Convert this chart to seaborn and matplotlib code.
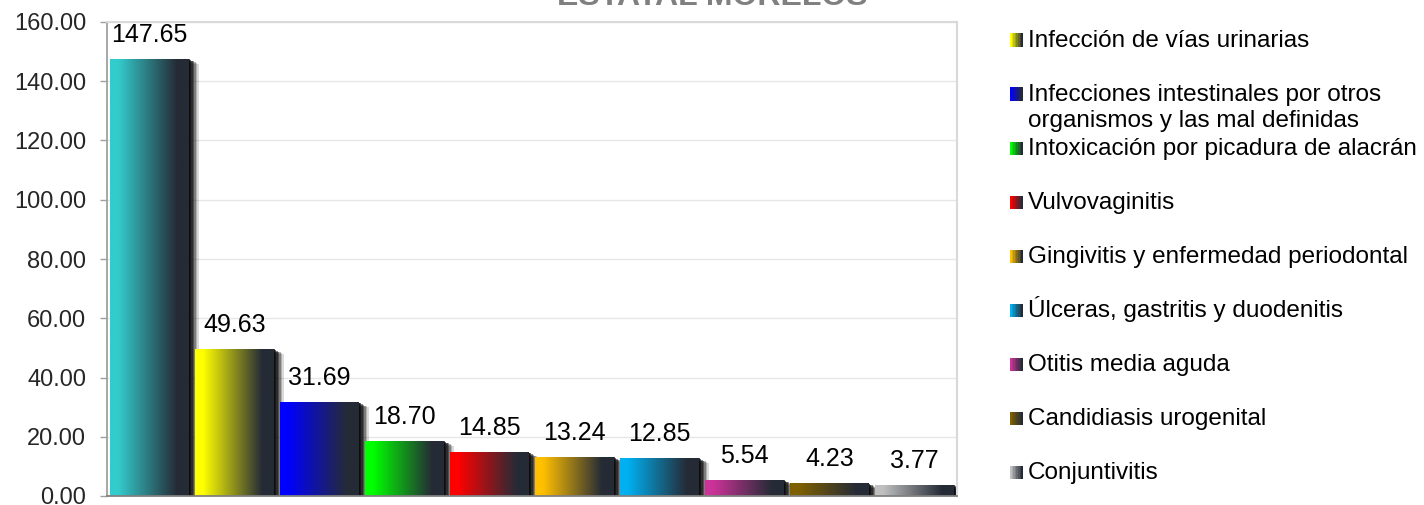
import numpy as np
import pandas as pd
import matplotlib
matplotlib.use('Agg')
import matplotlib.pyplot as plt
import seaborn as sns
from matplotlib.colors import LinearSegmentedColormap
from matplotlib.patches import Rectangle
from matplotlib.transforms import offset_copy

# Data
categories = [
    'Infecciones respiratorias agudas',
    'Infección de vías urinarias',
    'Infecciones intestinales por otros\norganismos y las mal definidas',
    'Intoxicación por picadura de alacrán',
    'Vulvovaginitis',
    'Gingivitis y enfermedad periodontal',
    'Úlceras, gastritis y duodenitis',
    'Otitis media aguda',
    'Candidiasis urogenital',
    'Conjuntivitis',
]
values = [147.65, 49.63, 31.69, 18.70, 14.85, 13.24, 12.85, 5.54, 4.23, 3.77]
colors = ['#33CCCC', '#FFFF00', '#0000FF', '#00FF00', '#FF0000',
          '#FFC000', '#00B0F0', '#CC3399', '#7F6000', '#C0C0C0']
yticks = [0, 20, 40, 60, 80, 100, 120, 140, 160]
title = 'ESTATAL MORELOS'
dark = '#252B36'

sns.set_style('white')
plt.rcParams['font.family'] = ['Liberation Sans', 'DejaVu Sans']

df = pd.DataFrame({'cat': categories, 'val': values})

fig = plt.figure(figsize=(14.24, 5.05), dpi=100)
ax = fig.add_axes([107 / 1424, 9 / 505, 850 / 1424, 474 / 505])

sns.barplot(data=df, x='cat', y='val', hue='cat', palette=colors,
            width=0.92, legend=False, ax=ax, saturation=1, linewidth=0)

grad = np.linspace(0, 1, 256).reshape(1, -1)
for p, c, v in zip(ax.patches, colors, values):
    p.set_zorder(2)
    p.set_edgecolor('none')
    x0, w, h = p.get_x(), p.get_width(), p.get_height()
    # blurred dark shadow, lower right
    for d, a in [(10, 0.15), (8.5, 0.2), (7, 0.3), (5.5, 0.4), (4, 0.5), (2.5, 0.6), (1, 0.7)]:
        tr = offset_copy(ax.transData, fig=fig, x=d, y=-d / 2, units='dots')
        ax.add_patch(Rectangle((x0, 0), w, h, transform=tr, color='#0A0A0A',
                               alpha=a, lw=0, zorder=1.5))
    cmap = LinearSegmentedColormap.from_list(None, [(0, c), (0.1, c), (0.85, dark), (1, dark)])
    im = ax.imshow(grad, cmap=cmap, extent=[x0, x0 + w, 0, h],
                   aspect='auto', zorder=2.5, interpolation='bilinear')
    im.set_clip_path(p)
    ax.annotate(f'{v:.2f}', (x0 + w / 2, h), xytext=(0, 17),
                textcoords='offset pixels', ha='center', va='baseline',
                fontsize=18, color='black')

ax.set_xlim(-0.5, len(values) - 0.5)
ax.set_ylim(0, 160)
ax.set_yticks(yticks)
ax.set_yticklabels([f'{t:.2f}' for t in yticks], fontsize=17)
ax.set_xticks([])
ax.set_xlabel('')
ax.set_ylabel('')
ax.set_axisbelow(True)
ax.yaxis.grid(True, color='#E6E6E6', linewidth=1)
ax.tick_params(axis='y', left=True, length=5, width=1, color='#A0A0A0', pad=10)
for side in ['top', 'right']:
    ax.spines[side].set_color('#D9D9D9')
    ax.spines[side].set_linewidth(1.5)
ax.spines['left'].set_color('#A0A0A0')
ax.spines['bottom'].set_color('#808080')
ax.spines['left'].set_linewidth(1.3)
ax.spines['bottom'].set_linewidth(1.3)
ax.spines['bottom'].set_zorder(3)

fig.text(0.5, 1 - 5 / 505, title, ha='center', va='baseline', fontsize=23,
         fontweight='bold', color='#808080')

# legend (first entry falls above the visible area in the reference)
for i, (lab, c) in enumerate(zip(categories[1:], colors[1:])):
    yc = 1 - (40 + 54.0 * i) / 505
    steps = 8
    for k in range(steps):
        col = LinearSegmentedColormap.from_list(None, [(0, c), (1, dark)])(k / (steps - 1))
        fig.patches.append(Rectangle(((1010 + 13 * k / steps) / 1424, yc - 6.5 / 505),
                                     13 / steps / 1424 + 0.0002, 13 / 505,
                                     transform=fig.transFigure, color=col, lw=0))
    for j, line in enumerate(lab.split('\n')):
        fig.text(1028 / 1424, yc - (7 + 26 * j) / 505, line, ha='left', va='baseline',
                 fontsize=17.5, color='black')

fig.savefig('out.png', dpi=100)
